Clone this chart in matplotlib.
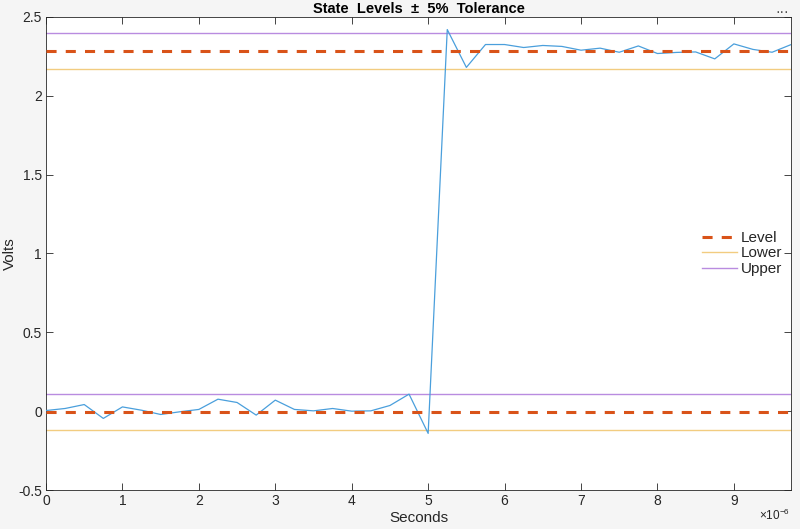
import numpy as np
import matplotlib
matplotlib.use("Agg")
import matplotlib.pyplot as plt

# Data
t_us = [i * 0.25 for i in range(40)]
volts = [0.004, 0.017, 0.042, -0.046, 0.027, 0.006, -0.021, -0.004, 0.011, 0.076,
         0.055, -0.025, 0.070, 0.011, 0.002, 0.017, 0.000, 0.002, 0.036, 0.108,
         -0.141, 2.42, 2.18, 2.325, 2.325, 2.306, 2.319, 2.313, 2.289, 2.302,
         2.276, 2.316, 2.268, 2.275, 2.278, 2.234, 2.329, 2.294, 2.276, 2.325]
levels = [-0.005, 2.285]
tol_pct = 5

t = np.array(t_us) * 1e-6
span = levels[1] - levels[0]
tol = tol_pct / 100 * span

plt.rcParams['font.family'] = ['Liberation Sans', 'DejaVu Sans']
plt.rcParams['mathtext.fontset'] = 'custom'
plt.rcParams['mathtext.rm'] = 'Liberation Sans'
fig = plt.figure(figsize=(8.0, 5.29), dpi=100, facecolor='#f5f5f5')
ax = fig.add_axes([0.0575, 0.0737, 0.9315, 0.8943])
ax.set_facecolor('white')

ax.plot(t, volts, color='#4a9fdc', lw=0.9, zorder=3)
for i, lv in enumerate(levels):
    ax.axhline(lv, color='#D95319', lw=2.2, ls=(0, (3.3, 3.0)), zorder=4,
               label='Level' if i == 0 else None)
    ax.axhline(lv - tol, color='#f2cc80', lw=1.0, zorder=2,
               label='Lower' if i == 0 else None)
    ax.axhline(lv + tol, color='#b98ce0', lw=1.0, zorder=2,
               label='Upper' if i == 0 else None)

ax.set_xlim(0, 9.75e-6)
ax.set_ylim(-0.5, 2.5)
ax.set_xticks(np.arange(0, 10) * 1e-6)
ax.set_xticklabels([str(i) for i in range(10)])
ax.set_yticks([-0.5, 0, 0.5, 1, 1.5, 2, 2.5])
ax.set_yticklabels(['-0.5', '0', '0.5', '1', '1.5', '2', '2.5'])
ax.tick_params(direction='in', top=True, right=True, length=5, width=0.6,
               colors='#262626', labelsize=10, pad=3)
for s in ax.spines.values():
    s.set_color('#262626')
    s.set_linewidth(0.6)

ax.set_xlabel('Seconds', fontsize=11, color='#262626', labelpad=2)
ax.set_ylabel('Volts', fontsize=11, color='#262626')
ax.yaxis.set_label_coords(-0.039, 0.5)
ax.set_title('State  Levels  \u00b1  5%  Tolerance', fontsize=10.5, fontweight='bold',
             color='#000000', pad=3)
fig.text(0.988, 0.012, '\u00d710$^{-6}$', fontsize=8.5, color='#262626',
         ha='right', va='bottom')
fig.text(0.978, 0.99, '\u00b7\u00b7\u00b7', fontsize=10, color='#404040',
         ha='center', va='top')

leg = ax.legend(loc='center right', bbox_to_anchor=(1.0, 0.50), frameon=False,
                fontsize=11, handlelength=2.3, handletextpad=0.2,
                labelspacing=0.1, borderaxespad=0.2)
for txt in leg.get_texts():
    txt.set_color('#262626')

fig.savefig('out.png', dpi=100, facecolor=fig.get_facecolor())
